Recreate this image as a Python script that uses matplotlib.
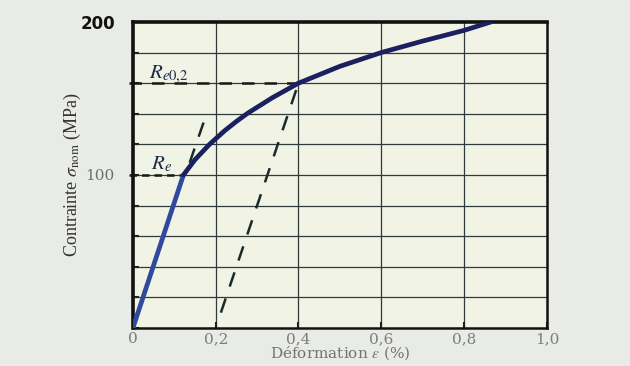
import matplotlib.pyplot as plt

plt.rcParams['mathtext.fontset'] = 'stix'

# courbe de traction
strain_el = [0, 0.122]
stress_el = [0, 100]
strain_pl = [0.122, 0.15, 0.185, 0.222, 0.25, 0.278, 0.337, 0.4, 0.5, 0.6, 0.7, 0.8, 0.865]
stress_pl = [100, 110, 120, 129, 135, 140.5, 150.5, 160, 171, 180, 187.5, 194.5, 200]

# droites paralleles a la partie elastique
offset_x = [0.2125, 0.4]
offset_y = [10, 160]
ext_x = [0.137, 0.178]
ext_y = [108, 140]

# limites d'elasticite
re_x, re_y = 0.122, 100
re02_x, re02_y = 0.4, 160

xticks = [0, 0.2, 0.4, 0.6, 0.8, 1.0]
xlabels = ['0', '0,2', '0,4', '0,6', '0,8', '1,0']
yticks = list(range(0, 201, 20))

fig = plt.figure(figsize=(6.3, 3.66), dpi=100, facecolor='#e9ebe7')
ax = fig.add_axes([0.211, 0.104, 0.657, 0.836])
ax.set_facecolor('#f1f3e4')

ax.set_xlim(0, 1.0)
ax.set_ylim(0, 200)

grid_col = '#2f3b3b'
for x in xticks[1:-1]:
    ax.axvline(x, color=grid_col, lw=0.9, zorder=1)
for y in yticks[1:-1]:
    ax.axhline(y, color=grid_col, lw=0.9, zorder=1)

# pointilles horizontaux
ax.plot([-0.01, re_x], [re_y, re_y], color='#1a1a1a', lw=1.8, ls=(0, (3, 2)), zorder=2, clip_on=False)
ax.plot([-0.01, re02_x], [re02_y, re02_y], color='#1a1a1a', lw=1.8, ls=(0, (5, 4)), zorder=2, clip_on=False)

# droites paralleles
ax.plot(offset_x, offset_y, color='#1a2a2a', lw=1.8, ls=(0, (6, 5)), zorder=2)
ax.plot(ext_x, ext_y, color='#1a2a2a', lw=1.8, ls=(0, (6, 5)), zorder=2)

# courbe
ax.plot(strain_el, stress_el, color='#2d4a9e', lw=3.4, solid_capstyle='round', zorder=3)
ax.plot(strain_pl, stress_pl, color='#1b2060', lw=3.4, solid_capstyle='round',
        solid_joinstyle='round', zorder=3)

ax.text(0.038, 163, r'$R_{e0{,}2}$', fontsize=15, color='#1e2a48')
ax.text(0.043, 104, r'$R_{e}$', fontsize=15, color='#1e2a48')

for side in ['left', 'top']:
    ax.spines[side].set_linewidth(2.6)
for side in ['right', 'bottom']:
    ax.spines[side].set_linewidth(1.8)
for s in ax.spines.values():
    s.set_color('#111111')

ax.set_xticks(xticks)
ax.set_xticklabels(xlabels, family='DejaVu Serif', fontsize=11, color='#7d7d7d')
ax.set_yticks(yticks)
ax.set_yticklabels(['' if v not in (100, 200) else str(v) for v in yticks])
for lab in ax.get_yticklabels():
    if lab.get_text() == '200':
        lab.set_fontfamily('DejaVu Sans')
        lab.set_fontweight('bold')
        lab.set_fontsize(12)
        lab.set_color('#111111')
    else:
        lab.set_fontfamily('DejaVu Serif')
        lab.set_fontsize(11)
        lab.set_color('#6f6f6f')
ax.tick_params(axis='both', direction='in', length=4, width=1.5, color='#222222')
ax.tick_params(axis='x', pad=3)
ax.tick_params(axis='y', pad=13)

ax.set_xlabel(r'Déformation $\varepsilon$ (%)', family='DejaVu Serif', fontsize=11,
              color='#727272', labelpad=-1)
ax.set_ylabel(r'Contrainte $\sigma_{\mathrm{nom}}$ (MPa)', family='Liberation Serif',
              fontsize=13, color='#333333', labelpad=-2)

fig.savefig('out.png', dpi=100, facecolor=fig.get_facecolor())
